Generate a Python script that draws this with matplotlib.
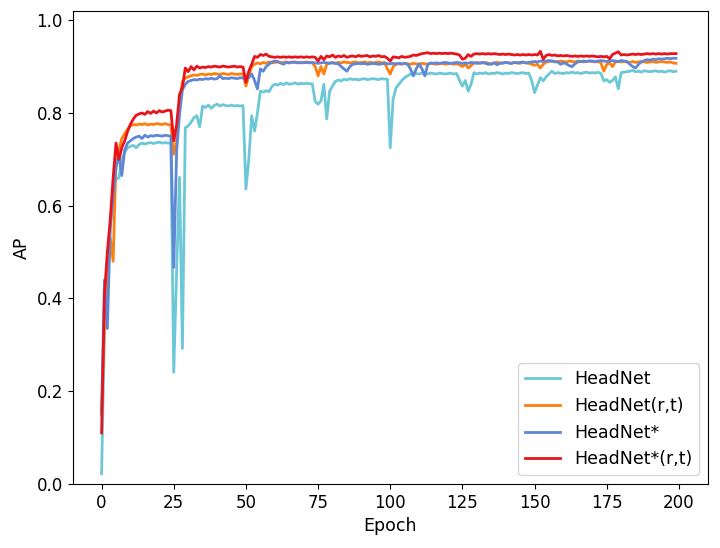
import numpy as np
import matplotlib
matplotlib.use("Agg")
import matplotlib.pyplot as plt

# AP per epoch
headnet = [
    0.022, 0.335, 0.45, 0.56, 0.64, 0.657, 0.66, 0.70, 0.715, 0.725,
    0.728, 0.73, 0.725, 0.732, 0.735, 0.733, 0.735, 0.736, 0.734, 0.736,
    0.737, 0.735, 0.736, 0.735, 0.735, 0.241, 0.46, 0.661, 0.292, 0.768,
    0.772, 0.78, 0.79, 0.794, 0.77, 0.815, 0.812, 0.817, 0.810, 0.816,
    0.819, 0.815, 0.818, 0.816, 0.815, 0.817, 0.815, 0.816, 0.815, 0.816,
    0.636, 0.70, 0.794, 0.761, 0.80, 0.847, 0.845, 0.848, 0.846, 0.857,
    0.862, 0.860, 0.864, 0.861, 0.865, 0.862, 0.863, 0.865, 0.862, 0.864,
    0.863, 0.864, 0.863, 0.863, 0.825, 0.819, 0.826, 0.862, 0.787, 0.847,
    0.858, 0.868, 0.871, 0.869, 0.873, 0.871, 0.874, 0.872, 0.873, 0.871,
    0.873, 0.874, 0.872, 0.873, 0.874, 0.873, 0.872, 0.874, 0.873, 0.873,
    0.725, 0.83, 0.854, 0.862, 0.870, 0.876, 0.880, 0.884, 0.883, 0.885,
    0.884, 0.886, 0.885, 0.884, 0.886, 0.885, 0.884, 0.886, 0.885, 0.884,
    0.885, 0.886, 0.884, 0.885, 0.870, 0.858, 0.870, 0.847, 0.862, 0.887,
    0.884, 0.886, 0.885, 0.887, 0.884, 0.886, 0.885, 0.887, 0.886, 0.884,
    0.886, 0.885, 0.887, 0.886, 0.885, 0.886, 0.887, 0.885, 0.886, 0.870,
    0.844, 0.86, 0.876, 0.869, 0.878, 0.884, 0.890, 0.885, 0.887, 0.886,
    0.885, 0.887, 0.886, 0.888, 0.886, 0.887, 0.885, 0.887, 0.888, 0.886,
    0.887, 0.886, 0.888, 0.885, 0.869, 0.872, 0.866, 0.870, 0.878, 0.852,
    0.887, 0.888, 0.889, 0.890, 0.892, 0.889, 0.890, 0.888, 0.891, 0.890,
    0.889, 0.890, 0.891, 0.889, 0.890, 0.888, 0.890, 0.891, 0.889, 0.890,
]

headnet_rt = [
    0.15, 0.35, 0.44, 0.53, 0.48, 0.70, 0.72, 0.745, 0.755, 0.765,
    0.772, 0.775, 0.774, 0.776, 0.775, 0.777, 0.774, 0.776, 0.775, 0.777,
    0.776, 0.775, 0.777, 0.775, 0.774, 0.711, 0.74, 0.82, 0.868, 0.875,
    0.878, 0.880, 0.882, 0.881, 0.883, 0.884, 0.882, 0.884, 0.883, 0.885,
    0.884, 0.883, 0.885, 0.884, 0.883, 0.885, 0.884, 0.883, 0.884, 0.884,
    0.858, 0.88, 0.90, 0.905, 0.908, 0.906, 0.909, 0.907, 0.910, 0.908,
    0.909, 0.910, 0.908, 0.909, 0.910, 0.908, 0.909, 0.910, 0.909, 0.908,
    0.909, 0.910, 0.909, 0.908, 0.900, 0.880, 0.900, 0.884, 0.905, 0.908,
    0.909, 0.907, 0.909, 0.908, 0.910, 0.909, 0.908, 0.909, 0.910, 0.908,
    0.909, 0.910, 0.908, 0.909, 0.908, 0.909, 0.910, 0.908, 0.909, 0.895,
    0.884, 0.900, 0.905, 0.906, 0.905, 0.907, 0.906, 0.905, 0.907, 0.906,
    0.905, 0.907, 0.906, 0.905, 0.907, 0.906, 0.905, 0.906, 0.907, 0.905,
    0.906, 0.907, 0.905, 0.906, 0.904, 0.900, 0.905, 0.897, 0.902, 0.908,
    0.909, 0.907, 0.908, 0.909, 0.907, 0.905, 0.908, 0.909, 0.908, 0.907,
    0.909, 0.908, 0.907, 0.909, 0.908, 0.907, 0.909, 0.908, 0.907, 0.905,
    0.903, 0.905, 0.897, 0.905, 0.910, 0.911, 0.912, 0.910, 0.911, 0.912,
    0.911, 0.910, 0.912, 0.911, 0.910, 0.912, 0.911, 0.910, 0.911, 0.912,
    0.911, 0.910, 0.911, 0.908, 0.890, 0.905, 0.908, 0.900, 0.910, 0.911,
    0.910, 0.911, 0.910, 0.909, 0.911, 0.909, 0.910, 0.911, 0.910, 0.909,
    0.910, 0.911, 0.909, 0.910, 0.911, 0.910, 0.909, 0.910, 0.908, 0.907,
]

headnet_star = [
    0.155, 0.44, 0.335, 0.55, 0.62, 0.682, 0.71, 0.665, 0.72, 0.735,
    0.74, 0.745, 0.748, 0.750, 0.745, 0.752, 0.748, 0.751, 0.750, 0.752,
    0.751, 0.750, 0.752, 0.751, 0.750, 0.467, 0.718, 0.797, 0.85, 0.862,
    0.868, 0.870, 0.872, 0.871, 0.873, 0.872, 0.874, 0.873, 0.875, 0.873,
    0.874, 0.880, 0.874, 0.875, 0.874, 0.876, 0.875, 0.874, 0.876, 0.875,
    0.875, 0.876, 0.884, 0.870, 0.852, 0.895, 0.89, 0.90, 0.905, 0.910,
    0.912, 0.911, 0.908, 0.905, 0.909, 0.908, 0.910, 0.909, 0.908, 0.909,
    0.908, 0.909, 0.908, 0.909, 0.908, 0.907, 0.908, 0.909, 0.908, 0.907,
    0.908, 0.907, 0.906, 0.900, 0.895, 0.890, 0.900, 0.905, 0.906, 0.907,
    0.906, 0.907, 0.905, 0.906, 0.907, 0.906, 0.905, 0.906, 0.907, 0.906,
    0.906, 0.907, 0.906, 0.907, 0.906, 0.907, 0.905, 0.895, 0.880, 0.895,
    0.906, 0.895, 0.880, 0.905, 0.908, 0.907, 0.908, 0.907, 0.908, 0.909,
    0.908, 0.907, 0.908, 0.909, 0.908, 0.907, 0.908, 0.907, 0.909, 0.908,
    0.907, 0.908, 0.909, 0.907, 0.905, 0.906, 0.908, 0.904, 0.907, 0.908,
    0.909, 0.908, 0.907, 0.909, 0.908, 0.909, 0.910, 0.908, 0.909, 0.910,
    0.911, 0.910, 0.912, 0.911, 0.912, 0.913, 0.912, 0.911, 0.910, 0.905,
    0.908, 0.906, 0.902, 0.900, 0.906, 0.910, 0.911, 0.912, 0.911, 0.912,
    0.912, 0.911, 0.912, 0.913, 0.912, 0.911, 0.912, 0.913, 0.912, 0.911,
    0.913, 0.912, 0.911, 0.905, 0.900, 0.897, 0.905, 0.910, 0.913, 0.915,
    0.914, 0.916, 0.915, 0.917, 0.916, 0.917, 0.918, 0.917, 0.918, 0.918,
]

headnet_star_rt = [
    0.11, 0.41, 0.50, 0.57, 0.66, 0.735, 0.70, 0.725, 0.74, 0.76,
    0.776, 0.787, 0.795, 0.798, 0.800, 0.797, 0.803, 0.799, 0.804, 0.800,
    0.805, 0.802, 0.804, 0.806, 0.805, 0.74, 0.775, 0.84, 0.855, 0.897,
    0.889, 0.900, 0.893, 0.901, 0.897, 0.899, 0.898, 0.900, 0.899, 0.901,
    0.900, 0.899, 0.901, 0.900, 0.899, 0.900, 0.901, 0.899, 0.900, 0.899,
    0.866, 0.89, 0.905, 0.922, 0.920, 0.926, 0.924, 0.927, 0.922, 0.921,
    0.920, 0.921, 0.920, 0.921, 0.920, 0.921, 0.920, 0.921, 0.920, 0.921,
    0.920, 0.921, 0.920, 0.921, 0.920, 0.912, 0.922, 0.915, 0.923, 0.921,
    0.925, 0.920, 0.923, 0.921, 0.924, 0.920, 0.922, 0.923, 0.921, 0.924,
    0.922, 0.923, 0.924, 0.921, 0.923, 0.922, 0.924, 0.921, 0.922, 0.918,
    0.912, 0.921, 0.920, 0.919, 0.922, 0.920, 0.921, 0.922, 0.925, 0.924,
    0.926, 0.928, 0.929, 0.930, 0.928, 0.929, 0.928, 0.929, 0.928, 0.929,
    0.928, 0.929, 0.928, 0.927, 0.925, 0.916, 0.918, 0.926, 0.922, 0.927,
    0.928, 0.927, 0.928, 0.927, 0.928, 0.927, 0.928, 0.927, 0.926, 0.927,
    0.926, 0.927, 0.926, 0.925, 0.926, 0.925, 0.926, 0.925, 0.926, 0.925,
    0.926, 0.925, 0.933, 0.916, 0.924, 0.926, 0.924, 0.925, 0.923, 0.924,
    0.923, 0.924, 0.923, 0.922, 0.923, 0.922, 0.923, 0.922, 0.923, 0.922,
    0.923, 0.922, 0.921, 0.922, 0.921, 0.922, 0.917, 0.926, 0.929, 0.932,
    0.925, 0.926, 0.925, 0.926, 0.927, 0.926, 0.927, 0.926, 0.927, 0.928,
    0.927, 0.928, 0.927, 0.928, 0.927, 0.928, 0.927, 0.928, 0.928, 0.928,
]

labels = ["HeadNet", "HeadNet(r,t)", "HeadNet*", "HeadNet*(r,t)"]
colors = ["#6CC7D6", "#FF7F0E", "#5F87D5", "#E8141B"]

epochs = np.arange(len(headnet))

fig = plt.figure(figsize=(7.2, 5.48), dpi=100)
ax = fig.add_axes([0.101, 0.117, 0.882, 0.863])

for series, label, color in zip(
    [headnet, headnet_rt, headnet_star, headnet_star_rt], labels, colors
):
    ax.plot(epochs, series, color=color, linewidth=2.0, label=label)

ax.set_xlim(-10, 210)
ax.set_ylim(0.0, 1.02)
ax.set_xticks(np.arange(0, 201, 25))
ax.set_yticks(np.arange(0.0, 1.01, 0.2))
ax.tick_params(labelsize=12)
ax.set_xlabel("Epoch", fontsize=12.5)
ax.set_ylabel("AP", fontsize=12.5)

ax.legend(loc="lower right", fontsize=12.5)

fig.savefig("out.png", dpi=100)
plt.close(fig)
